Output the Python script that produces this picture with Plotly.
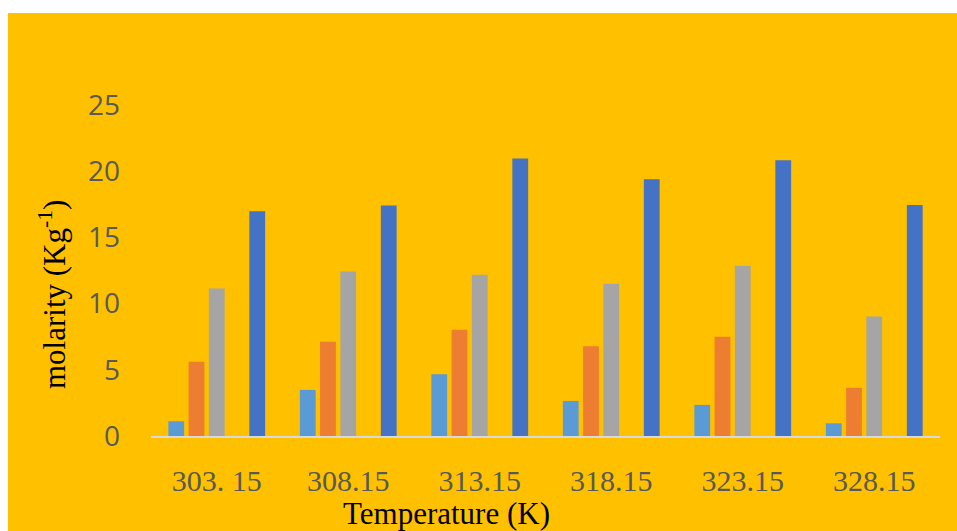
import plotly.graph_objects as go

categories = ["303. 15", "308.15", "313.15", "318.15", "323.15", "328.15"]
series1 = [1.11, 3.48, 4.67, 2.65, 2.35, 0.96]
series2 = [5.6, 7.12, 8.03, 6.77, 7.5, 3.64]
series3 = [11.14, 12.42, 12.17, 11.49, 12.86, 9.02]
series4 = [None, None, None, None, None, None]  # colour matches the background, not visible
series5 = [16.97, 17.4, 20.96, 19.39, 20.83, 17.45]
y_ticks = [0, 5, 10, 15, 20, 25]

names = ["Series1", "Series2", "Series3", "Series4", "Series5"]
colors = ["#5B9BD5", "#ED7D31", "#A5A5A5", "#FFC000", "#4472C4"]
all_series = [series1, series2, series3, series4, series5]

fig = go.Figure()
for n, c, s in zip(names, colors, all_series):
    fig.add_trace(go.Bar(x=categories, y=s, name=n, marker=dict(color=c, line=dict(width=0))))

W, H = 957, 531
L, R, T, B = 151, 17, 105, 95
pw, ph = W - L - R, H - T - B

def px_x(p):
    return (p - L) / pw

def px_y(p):
    return (H - B - p) / ph

fig.update_layout(
    width=W, height=H,
    margin=dict(l=L, r=R, t=T, b=B, pad=0),
    paper_bgcolor="white",
    plot_bgcolor="#FFC000",
    barmode="group",
    bargap=0.23,
    bargroupgap=0.22,
    showlegend=False,
    xaxis=dict(
        type="category",
        showline=True, linecolor="#D9D9D9", linewidth=2,
        showgrid=False, zeroline=False, ticks="",
        tickfont=dict(family="Liberation Serif", size=30, color="#595959"),
        ticklabelstandoff=17,
    ),
    yaxis=dict(
        range=[0, 25], tickvals=y_ticks,
        showline=False, showgrid=False, zeroline=False, ticks="",
        tickfont=dict(family="Open Sans", size=28, color="#595959"),
        ticklabelstandoff=30,
    ),
    shapes=[dict(
        type="rect", xref="paper", yref="paper", layer="below",
        x0=px_x(8), x1=px_x(W + 5), y0=px_y(H + 5), y1=px_y(13),
        fillcolor="#FFC000", line=dict(width=0),
    )],
    annotations=[
        dict(text="Temperature (K)", xref="paper", yref="paper",
             x=px_x(446), y=px_y(513), xanchor="center", yanchor="middle",
             showarrow=False, font=dict(family="Liberation Serif", size=31, color="black")),
        dict(text="molarity (Kg<sup>-1</sup>)", xref="paper", yref="paper",
             x=px_x(52), y=px_y(295), xanchor="center", yanchor="middle", textangle=-90,
             showarrow=False, font=dict(family="Liberation Serif", size=31, color="black")),
    ],
)

fig.write_html("out.html")
